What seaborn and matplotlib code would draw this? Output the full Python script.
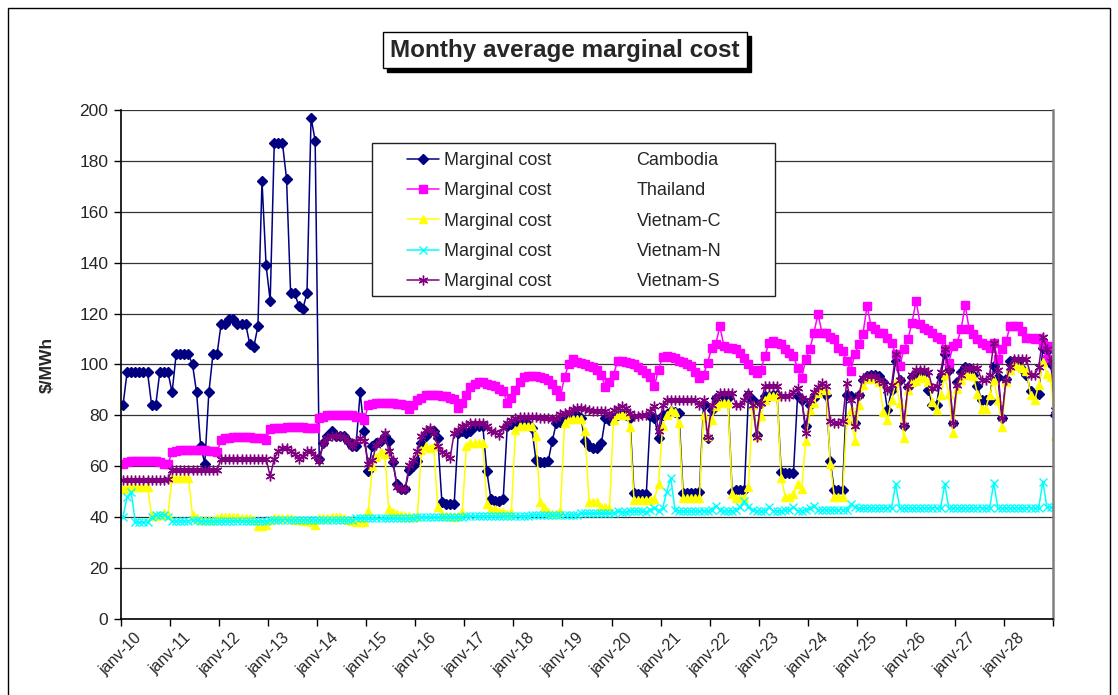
import numpy as np
import pandas as pd
import matplotlib
matplotlib.use('Agg')
import matplotlib.pyplot as plt
import matplotlib.transforms as mtransforms
from matplotlib.lines import Line2D
from matplotlib.patches import Rectangle
import seaborn as sns

# monthly values, janv-10 .. dec-28 plus janv-29 (last one is cut by the axis)
cambodia = (
    [84, 97, 97, 97, 97, 97, 97, 84, 84, 97, 97, 97] +
    [89, 104, 104, 104, 104, 100, 89, 68, 61, 89, 104, 104] +
    [116, 116, 118, 118, 116, 116, 116, 108, 107, 115, 172, 139] +
    [125, 187, 187, 187, 173, 128, 128, 123, 122, 128, 197, 188] +
    [63, 69, 72, 74, 72, 72, 72, 70, 68, 68, 89, 74] +
    [58, 68, 69, 70, 72, 70, 61.5, 53, 51, 51, 58.5, 60] +
    [62, 69, 72, 74, 74, 71, 46, 45, 45, 45, 73, 74] +
    [73, 74, 76, 76, 76, 58, 47, 46.5, 46.5, 47, 76, 76.5] +
    [76.5, 76.5, 77, 76.5, 75, 62.5, 61.5, 61.5, 62, 70, 77, 77.4] +
    [79, 80, 80, 80, 79, 70, 68, 67, 67, 69, 79, 78] +
    [79, 80, 80.5, 80, 79, 49.5, 49, 49, 49, 79.6, 79, 71] +
    [80, 80.5, 81.6, 81.5, 81, 49.5, 49.5, 49.5, 49.5, 50, 84, 71] +
    [82, 86.8, 86.8, 86.8, 86.8, 50, 50.6, 50.6, 50.6, 88.2, 86, 72.4] +
    [85, 87.5, 87.5, 88, 88, 57.9, 57.2, 57.2, 57.2, 87.5, 86, 75.7] +
    [84, 87, 89, 89, 88, 62, 50.6, 50.6, 50.6, 88.2, 87.5, 77] +
    [88, 94, 95.5, 96, 96, 95.5, 93, 82, 90, 101.5, 94, 76] +
    [91, 95, 96.5, 97, 96.5, 90, 84, 84, 95, 104, 98, 77] +
    [93, 97, 99, 98.5, 96, 91.5, 86, 86, 86, 99.5, 95, 79] +
    [94.4, 101.5, 101.5, 101, 98.3, 96, 89.5, 88, 88.5, 106.6, 105.3, 100] +
    [80]
)

thailand = (
    [61, 61.5, 62, 62, 62, 62, 62, 62, 62, 61.5, 61, 61] +
    [65.5, 66, 66.5, 66.5, 66.5, 66.5, 66.5, 66.5, 66.5, 66, 66, 65.5] +
    [70.5, 71, 71, 71.5, 71.5, 71.5, 71.5, 71.5, 71, 71, 71, 70.5] +
    [74.5, 75, 75, 75, 75.5, 75.5, 75.5, 75.5, 75.5, 75, 75, 75] +
    [79, 79.5, 80, 80, 80, 80, 80, 80, 80, 79.5, 79.5, 78] +
    [84, 84.5, 85, 85, 85, 85, 85, 84.5, 84.5, 84, 82.5, 84] +
    [86, 87, 88, 88, 88, 88, 87.5, 87.5, 87, 86.5, 83, 85] +
    [88, 91, 92.5, 93, 93, 92.5, 92, 91.5, 90.5, 89.5, 85, 87] +
    [90, 93, 95, 95.5, 95.5, 95.5, 95, 94.5, 94, 92.5, 90, 87.5] +
    [95, 100, 102, 101, 100.5, 100, 99.5, 99, 98, 96, 91, 93] +
    [96, 101.5, 101.5, 101, 100.5, 100, 99, 98, 96.5, 95, 91.5, 98] +
    [103, 103.5, 103, 102.5, 101.5, 101, 100, 99.3, 97, 94.7, 96, 100.7] +
    [106.6, 108, 115, 107.2, 106.6, 106.5, 106, 104.6, 102.6, 100, 98, 96.5] +
    [98, 103.3, 108.5, 109.2, 108.5, 107.9, 106, 104.5, 103.3, 98.7, 94.7, 102] +
    [106, 112.5, 119.7, 112.5, 112.5, 111, 110, 106.6, 105.3, 101.3, 97.4, 104] +
    [107.9, 112, 123, 115, 114, 112.5, 112.5, 110.5, 108.5, 104, 99.3, 106] +
    [110, 116.4, 125, 115.8, 114.5, 113.5, 112.5, 111, 110, 106, 100.7, 107.2] +
    [108.5, 113.8, 123.3, 113.8, 112, 110, 108.5, 107.5, 106.6, 108.5, 102, 106] +
    [109.2, 115, 115, 115, 113, 110.5, 110.5, 110, 110.5, 108, 102, 107.2] +
    [100]
)

vietnam_c = (
    [51, 52, 52, 52, 52, 52, 52, 40.5, 40.5, 41, 41.5, 41] +
    [55.5, 55.5, 55.5, 55.5, 55.5, 41, 39.5, 39, 39, 39, 39, 39.5] +
    [40, 40, 40, 40, 40, 39.5, 39.5, 39.5, 39, 36.5, 36.5, 37] +
    [39, 39.5, 39.5, 39.5, 39.5, 39.5, 39, 39, 38.5, 38.5, 38, 37] +
    [39.5, 39.5, 39.5, 40, 40, 40, 39.5, 39, 38.5, 38, 38, 38] +
    [42.5, 60, 63.5, 65.8, 65, 43.3, 42, 41.3, 41, 40.5, 40.5, 40] +
    [40.5, 66.5, 67.8, 67, 67.8, 44, 41, 40.5, 40.5, 40, 40.5, 42] +
    [67.8, 69, 69, 69, 69, 45.3, 43.3, 43.3, 42.6, 42, 41.3, 42] +
    [74.4, 75.8, 75.8, 75.8, 75.8, 71.8, 46, 44, 42, 41.3, 41.3, 42.6] +
    [77, 78.4, 78.4, 78.4, 78.4, 73.8, 46, 46, 46, 44, 44, 43.5] +
    [78.3, 80.3, 80.3, 80.3, 75.6, 46.7, 46.7, 46.7, 46.7, 46.7, 47, 53] +
    [76, 80, 82, 81.5, 77, 47.4, 47.4, 47.4, 47.4, 47.4, 80.3, 72] +
    [78.3, 83.5, 84.9, 84.9, 84.9, 49.3, 47.4, 47.4, 47.4, 52, 84, 72] +
    [79.6, 86.2, 87.5, 87.5, 87.5, 55.3, 48, 48, 49, 53, 51, 70] +
    [82, 85, 88.8, 90.8, 90, 61, 48, 48, 48, 78.3, 82.2, 70] +
    [84, 92, 94.4, 94.5, 94.4, 93, 81.4, 78, 86, 93, 85, 71] +
    [90, 93, 93.7, 95, 94.5, 93, 85.3, 82, 88, 95.7, 88.5, 73] +
    [90.5, 94, 95.7, 95.7, 95.5, 88.5, 82.7, 82.7, 88, 94, 86, 75.5] +
    [93, 98, 100.2, 99.6, 98.5, 97.6, 88, 86, 92, 101, 96.3, 95] +
    [72]
)

vietnam_n = (
    [40, 48, 50, 38, 38, 38, 38, 40, 41, 41, 41, 40] +
    [38.5, 38.5, 38.5, 38.5, 38.5, 39, 39, 38.5, 38.5, 38.5, 38.5, 38.5] +
    [38.5, 38.5, 38.5, 38.5, 38.5, 38.5, 38.5, 38.5, 38.5, 38.5, 38.5, 38.5] +
    [39, 39, 39, 39, 39, 39, 39, 39, 39, 39, 39, 39] +
    [39, 39, 39, 39, 39, 39, 39, 39, 39, 39.5, 39.5, 39.5] +
    [39.5, 39.5, 39.5, 39.5, 39.5, 39.5, 39.5, 39.5, 39.5, 39.5, 39.5, 39.5] +
    [40, 40, 40, 40, 40, 40, 40, 40, 40, 40, 40, 40] +
    [40.5, 40.5, 40.5, 40.5, 40.5, 40.5, 40.5, 40.5, 40.5, 40.5, 40.5, 40.5] +
    [40.5, 40.5, 40.5, 40.5, 41, 41, 41, 41, 41, 41, 41, 41] +
    [41, 41, 41, 41, 41.5, 41.5, 41.5, 41.5, 41.5, 41.5, 41.5, 41.5] +
    [41.5, 42.6, 42, 42, 42.5, 42.5, 42.5, 42.5, 42, 43, 43.8, 42.5] +
    [43.5, 50, 55.5, 43, 42.5, 42.5, 42.5, 42.5, 42.5, 42.5, 42.5, 42.5] +
    [43, 44.5, 43, 42.5, 42.5, 42.5, 43, 44, 46.5, 44, 43, 42.5] +
    [42.5, 42.5, 44, 42.5, 42.5, 42.5, 43, 43, 44, 42.5, 42.5, 43] +
    [43.5, 44.5, 43, 43, 43, 43, 43, 43, 43, 43, 45, 44] +
    [43.5, 43.5, 43.7, 43.7, 43.7, 43.7, 43.7, 43.7, 43.7, 53, 43.7, 43.7] +
    [43.7, 43.7, 43.7, 43.7, 43.7, 43.7, 43.7, 43.7, 43.7, 53, 43.7, 43.7] +
    [43.7, 43.7, 43.7, 43.7, 43.7, 43.7, 43.7, 43.7, 43.7, 53.5, 43.7, 43.7] +
    [43.7, 43.7, 43.7, 43.7, 43.7, 43.7, 43.7, 43.7, 43.7, 54, 44, 44] +
    [44]
)

vietnam_s = (
    [54.5, 54.5, 54.5, 54.5, 54.5, 54.5, 54.5, 54.5, 54.5, 54.5, 54.5, 55] +
    [58.5, 58.5, 58.5, 58.5, 58.5, 58.5, 58.5, 58.5, 58.5, 58.5, 58.5, 58.5] +
    [63, 63, 63, 63, 63, 63, 63, 63, 63, 63, 63, 63] +
    [56, 63, 66, 67, 67, 66, 65, 63, 64, 66, 66, 64] +
    [62, 69, 71, 72, 72, 72, 71.5, 70, 68, 70, 71, 70] +
    [61, 62.5, 68.5, 70.5, 73, 66, 62.5, 52, 51, 51, 60.5, 62.5] +
    [66, 72, 74.4, 75, 73, 68, 65.8, 65, 63.2, 73, 74.4, 76] +
    [76.4, 77, 77, 77, 77, 75.8, 74, 73.5, 72.4, 75, 77, 78] +
    [79, 79.5, 79.5, 79.5, 79.5, 79.5, 79, 79, 79, 78.4, 79, 80.4] +
    [81, 81.5, 82.4, 83, 83, 82.5, 82, 81.7, 81.7, 81.7, 81.7, 80] +
    [82, 83, 83.5, 83, 81, 79.6, 79.6, 80, 80, 81.6, 83.5, 74] +
    [84, 86, 86, 86, 86, 86, 86.2, 86.2, 86, 84.2, 86.2, 71.7] +
    [84.2, 87, 88.8, 88.8, 88.8, 88.8, 84.2, 84.2, 86, 88.8, 84.2, 71.7] +
    [84.9, 91.4, 91.4, 91.4, 91.4, 87.5, 87.5, 87.5, 89, 90.8, 86.8, 73] +
    [86.2, 89, 91, 92.8, 91.4, 77.6, 77, 77, 77.6, 92.8, 86.2, 76] +
    [88, 94.7, 95.4, 95.4, 95.4, 94, 92.8, 90, 92, 104, 94, 76.3] +
    [91.4, 96, 98, 98, 98, 97, 90.8, 91.4, 97, 106, 98, 77] +
    [92, 96, 98.7, 98.7, 98.7, 98.7, 94, 94, 96, 108.5, 98, 79] +
    [94, 99, 102, 102, 102, 102, 96, 96, 99, 111, 106, 101.3] +
    [82]
)

regions = ['Cambodia', 'Thailand', 'Vietnam-C', 'Vietnam-N', 'Vietnam-S']
values = [cambodia, thailand, vietnam_c, vietnam_n, vietnam_s]
colors = ['#000080', '#FF00FF', '#FFFF00', '#00FFFF', '#800080']
markers = ['D', 's', '^', 'x', (6, 2, 0)]
msizes = [5, 5.5, 6, 6, 7]
tick_labels = ['janv-%02d' % y for y in range(10, 29)]

sns.set_theme(style='white')
plt.rcParams['font.family'] = ['Liberation Sans', 'DejaVu Sans']

W, H = 1118, 695
fig = plt.figure(figsize=(W / 100, H / 100), dpi=100)
ax = fig.add_axes([0.1082, 0.1094, 0.8337, 0.7323])

handles = []
for name, v, c, mk, ms in zip(regions, values, colors, markers, msizes):
    month = np.arange(len(v)) + 0.5   # points sit in the middle of each month
    df = pd.DataFrame({'month': month, 'cost': v})
    sns.lineplot(data=df, x='month', y='cost', ax=ax, color=c, lw=1.1,
                 marker=mk, markersize=ms, markeredgecolor=c,
                 markeredgewidth=1.0, markerfacecolor=c, legend=False)
    handles.append(ax.lines[-1])

ax.set_xlim(0, 228)
ax.set_ylim(0, 200)
ax.set_yticks(range(0, 201, 20))
ax.set_xticks(range(0, 229, 12))
ax.set_xticklabels(tick_labels + [''], rotation=45, ha='center', va='top',
                   fontsize=11.5)
# nudge the slanted labels a little to the right, like Excel does
shift = mtransforms.ScaledTranslation(5 / 100, 0, fig.dpi_scale_trans)
for lab in ax.get_xticklabels():
    lab.set_transform(lab.get_transform() + shift)
ax.tick_params(axis='y', labelsize=12.5, length=5, width=1, color='black',
               direction='out', left=True, pad=4)
ax.tick_params(axis='x', length=5, width=1, color='black', direction='out',
               bottom=True, pad=3)
ax.set_xlabel('')
ax.set_ylabel('$/MWh', fontsize=12.5, fontweight='bold', labelpad=18)
ax.yaxis.grid(True, color='#333333', lw=0.9)
ax.xaxis.grid(False)
ax.set_axisbelow(True)
for side in ['left', 'bottom']:
    ax.spines[side].set_color('black')
    ax.spines[side].set_linewidth(1.2)
ax.spines['right'].set_color('#808080')
ax.spines['right'].set_linewidth(1.8)
ax.spines['top'].set_visible(False)

# legend box
fig.patches.append(Rectangle((372 / W, 1 - 296 / H), (775 - 372) / W, (296 - 143) / H,
                             transform=fig.transFigure, facecolor='white',
                             edgecolor='#222222', lw=1.0, zorder=3))
blank = [Line2D([], [], linestyle='none') for _ in regions]
leg = fig.legend(handles + blank, ['Marginal cost'] * 5 + regions, ncol=2,
                 frameon=False, loc='upper left',
                 bbox_to_anchor=(407 / W, 1 - 152 / H), fontsize=13,
                 handlelength=1.75, handletextpad=0.3, columnspacing=2.67,
                 labelspacing=0.74, borderpad=0, borderaxespad=0)
leg.set_zorder(4)

# title in a box with a drop shadow
title = 'Monthy average marginal cost'
t = fig.text(565 / W, 1 - 50 / H, title, ha='center', va='center', fontsize=17.5,
             fontweight='bold', zorder=5,
             bbox=dict(boxstyle='square,pad=0.28', fc='white', ec='black', lw=1.0))
fig.canvas.draw()
bb = t.get_bbox_patch().get_window_extent()
fig.patches.append(Rectangle(((bb.x0 + 4) / W, (bb.y0 - 4) / H), bb.width / W, bb.height / H,
                             transform=fig.transFigure, facecolor='black',
                             edgecolor='black', zorder=4))

# chart area border
fig.patches.append(Rectangle((8 / W, -0.05), (1110 - 8) / W, 1.05 - 8 / H,
                             transform=fig.transFigure, fill=False,
                             edgecolor='black', lw=1.0))

fig.savefig('out.png', dpi=100)
